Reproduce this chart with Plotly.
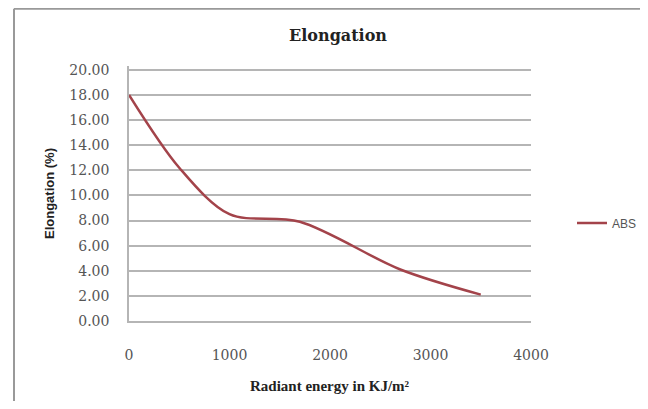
import plotly.graph_objects as go

# Data
radiant_energy = [0, 500, 1000, 1700, 2700, 3500]
elongation_abs = [18.0, 12.2, 8.5, 7.9, 4.1, 2.1]
series_name = "ABS"

x_ticks = [0, 1000, 2000, 3000, 4000]
y_ticks = [0, 2, 4, 6, 8, 10, 12, 14, 16, 18, 20]
y_max = 20.3

# page body has an 8px margin: work in figure coords = viewport - 8
OFF = 8
W, H = 648 - 2 * OFF, 409 - 2 * OFF
y0_px = 321                      # viewport y of value 0
y20_px = 70                      # viewport y of value 20
top_px = y0_px - (y0_px - y20_px) * y_max / 20
L, T = 129 - OFF, top_px - OFF
R = W - (531 - OFF)
B = H - (y0_px - OFF)
pw = W - L - R
ph = H - T - B


def px_x(vx):
    return (vx - OFF - L) / pw


def px_y(vy):
    return (H - B - (vy - OFF)) / ph


fig = go.Figure()
fig.add_trace(go.Scatter(
    x=radiant_energy, y=elongation_abs, name=series_name,
    mode="lines", line=dict(color="#A3434A", width=2.5, shape="spline", smoothing=0.9),
))

fig.update_layout(
    width=W, height=H,
    margin=dict(l=L, r=R, t=T, b=B, autoexpand=False),
    paper_bgcolor="white", plot_bgcolor="white",
    title=dict(text="<b>Elongation</b>", x=px_x(338), xref="paper", xanchor="center",
               y=1 - (35 - OFF) / H, yref="container", yanchor="middle",
               font=dict(family="DejaVu Serif", size=16, color="#222")),
    showlegend=True,
    legend=dict(x=px_x(572), xanchor="left", y=px_y(223), yanchor="middle",
                font=dict(family="Liberation Sans", size=12, color="#555"),
                bgcolor="rgba(0,0,0,0)"),
    xaxis=dict(range=[0, 4000], tickvals=x_ticks, ticktext=[str(v) for v in x_ticks],
               showgrid=False, zeroline=False, showline=True, linecolor="#B5B5B5", linewidth=1.5,
               ticks="", ticklabelstandoff=20, automargin=False,
               tickfont=dict(family="DejaVu Serif", size=14, color="#555")),
    yaxis=dict(range=[0, y_max], tickvals=y_ticks, ticktext=[f"{v:.2f}" for v in y_ticks],
               showgrid=True, gridcolor="#B5B5B5", gridwidth=1.5,
               zeroline=False, showline=True, linecolor="#B5B5B5", linewidth=1.5,
               ticks="", ticklabelstandoff=15, automargin=False,
               tickfont=dict(family="DejaVu Serif", size=14, color="#555"),
               title=dict(text="<b>Elongation (%)</b>", standoff=12,
                          font=dict(family="Liberation Sans", size=13, color="#222"))),
    annotations=[
        dict(text="<b>Radiant energy in KJ/m²</b>", xref="paper", yref="paper",
             x=px_x(330), y=px_y(386), xanchor="center", yanchor="middle",
             showarrow=False, font=dict(family="Liberation Serif", size=15, color="#222")),
    ],
    shapes=[
        dict(type="line", xref="paper", yref="paper",
             x0=px_x(14), x1=px_x(OFF + W), y0=px_y(9), y1=px_y(9),
             line=dict(color="#999999", width=2), layer="below"),
        dict(type="line", xref="paper", yref="paper",
             x0=px_x(14), x1=px_x(14), y0=px_y(9), y1=px_y(OFF + H),
             line=dict(color="#999999", width=2), layer="below"),
    ],
)

fig.write_html("out.html")
